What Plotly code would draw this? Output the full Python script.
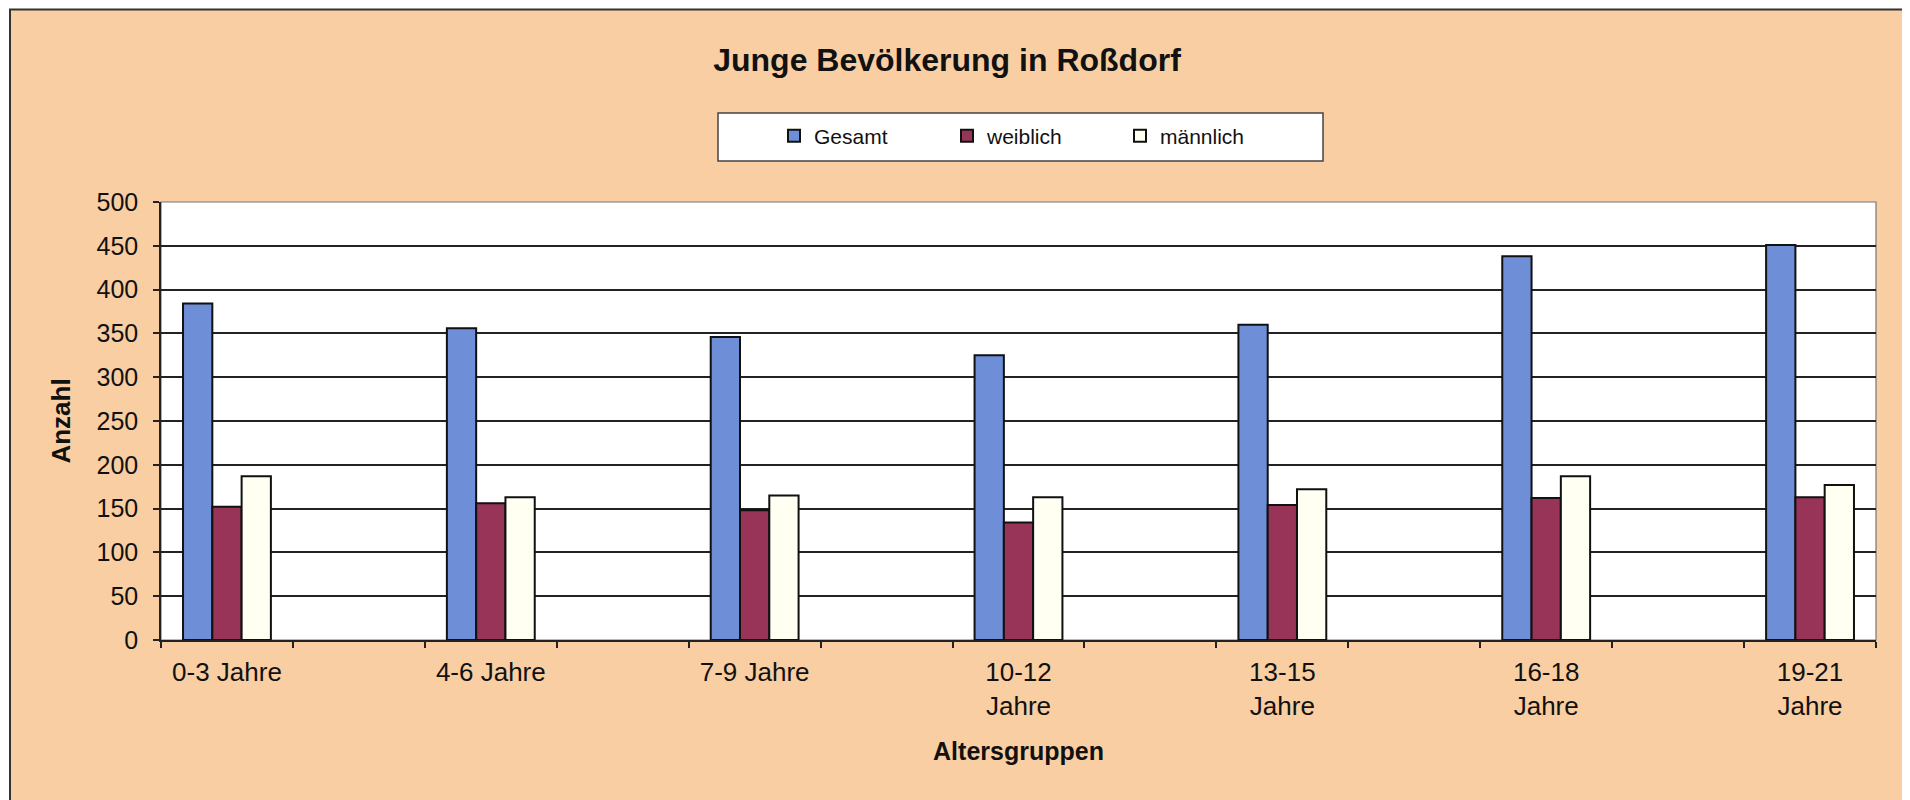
import plotly.graph_objects as go

categories = ["0-3 Jahre", "4-6 Jahre", "7-9 Jahre", "10-12<br>Jahre",
              "13-15<br>Jahre", "16-18<br>Jahre", "19-21<br>Jahre"]
gesamt = [384, 356, 346, 325, 360, 438, 451]
weiblich = [152, 156, 148, 134, 154, 162, 163]
maennlich = [187, 163, 165, 163, 172, 187, 177]
series_names = ["Gesamt", "weiblich", "männlich"]
y_ticks = [0, 50, 100, 150, 200, 250, 300, 350, 400, 450, 500]

# page body has an 8px margin; compensate so the figure lands where the reference has it
OFF = 8
W, H = 1910 - OFF, 800 - OFF
L, R, T, B = 161 - OFF, 1876 - OFF, 202 - OFF, 640 - OFF  # plot area pixels
pw, ph = R - L, B - T

def px_x(x):
    return (x - OFF - L) / pw

def px_y(y):
    return (B - (y - OFF)) / ph

FONT = "Liberation Sans, Arial, sans-serif"
PEACH = "#F9CEA2"
xpos = list(range(len(categories)))

fig = go.Figure()
colors = ["#6E8ED8", "#983458", "#FFFFF2"]
for name, vals, col in zip(series_names, [gesamt, weiblich, maennlich], colors):
    fig.add_trace(go.Bar(
        x=xpos, y=vals, name=name,
        marker=dict(color=col, line=dict(color="#111111", width=2)),
    ))

fig.update_layout(
    width=W, height=H,
    margin=dict(l=L, r=W - R, t=T, b=H - B, autoexpand=False),
    paper_bgcolor="white",
    plot_bgcolor="white",
    barmode="group",
    bargap=0.667,
    bargroupgap=0,
    font=dict(family=FONT, color="#111111"),
    title=dict(text="<b>Junge Bevölkerung in Roßdorf</b>",
               x=(947 - OFF) / W, xanchor="center", xref="container",
               y=1 - (60 - OFF) / H, yanchor="middle", yref="container",
               font=dict(size=32, family=FONT, color="#111111")),
    legend=dict(orientation="h", x=px_x(774), xanchor="left",
                y=px_y(136), yanchor="middle",
                bgcolor="rgba(0,0,0,0)", borderwidth=0,
                entrywidth=128, font=dict(size=21, family=FONT),
                traceorder="normal"),
    showlegend=True,
    xaxis=dict(range=[-0.25, 6.25], tickmode="array", tickvals=xpos,
               ticktext=categories, ticks="", showgrid=False,
               showline=True, linecolor="#222222", linewidth=1.5,
               mirror=False, zeroline=False,
               tickfont=dict(size=26, family=FONT, color="#111111"),
               ticklabelstandoff=8,
               minor=dict(ticks="outside", tick0=-0.25, dtick=0.5,
                          ticklen=6, tickcolor="#222222", tickwidth=1.5,
                          showgrid=False),
               title=dict(text="<b>Altersgruppen</b>",
                          font=dict(size=25, family=FONT, color="#111111"),
                          standoff=23)),
    yaxis=dict(range=[0, 500], tickmode="array", tickvals=y_ticks,
               ticks="outside", ticklen=6, tickcolor="#222222", tickwidth=1.5,
               showgrid=True, gridcolor="#222222", gridwidth=1.6,
               showline=True, linecolor="#222222", linewidth=1.5,
               zeroline=False,
               tickfont=dict(size=25, family=FONT, color="#111111"),
               ticklabelstandoff=10,
               title=dict(text="<b>Anzahl</b>",
                          font=dict(size=26, family=FONT, color="#111111"),
                          standoff=18)),
    shapes=[
        # outer chart frame (peach background)
        dict(type="rect", xref="paper", yref="paper",
             x0=px_x(10), x1=px_x(1904), y0=px_y(810), y1=px_y(9.5),
             fillcolor=PEACH, line=dict(color="#333333", width=2),
             layer="below"),
        # plot area white
        dict(type="rect", xref="paper", yref="paper",
             x0=0, x1=1, y0=0, y1=1,
             fillcolor="white", line=dict(color="#777777", width=1.2),
             layer="below"),
        # legend box
        dict(type="rect", xref="paper", yref="paper",
             x0=px_x(718), x1=px_x(1323), y0=px_y(161), y1=px_y(113),
             fillcolor="white", line=dict(color="#444444", width=1.5),
             layer="below"),
    ],
)

fig.write_html("out.html")
